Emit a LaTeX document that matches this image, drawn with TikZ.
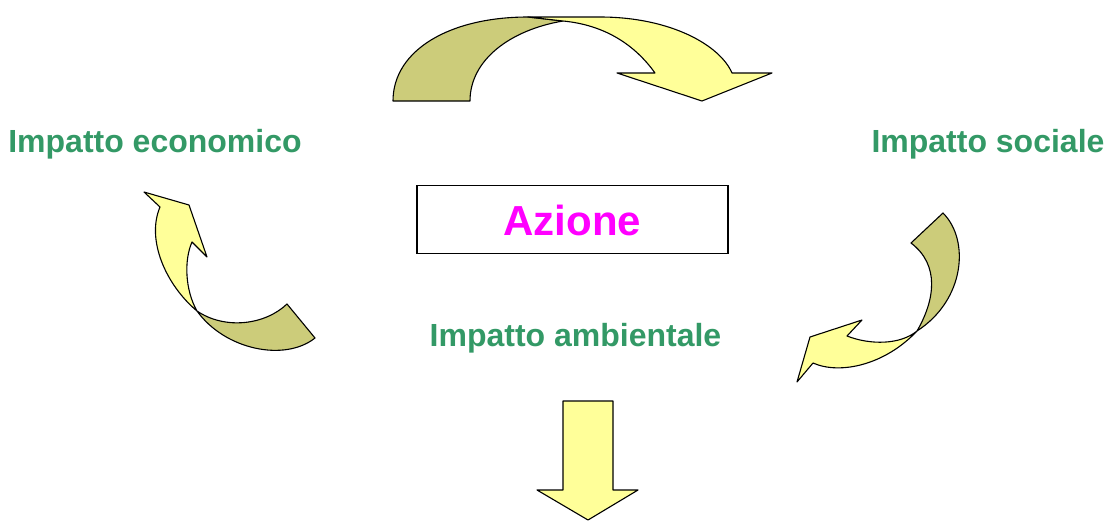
\documentclass[tikz,border=0pt]{standalone}
\usepackage{fontspec}
\setmainfont{Liberation Sans}
\definecolor{arrowfront}{RGB}{255,255,153}
\definecolor{arrowback}{RGB}{204,204,122}
\definecolor{labelgreen}{RGB}{51,153,102}
\definecolor{actionmag}{RGB}{255,0,255}
\tikzset{
  front/.style={draw=black, fill=arrowfront, line width=1.1pt, line join=round},
  back/.style={draw=black, fill=arrowback, line width=1.1pt, line join=round},
  impact/.style={text=labelgreen, font=\bfseries\fontsize{32}{36}\selectfont, inner sep=0pt, anchor=base},
  actionbox/.style={draw=black, line width=1.1pt, fill=white, minimum width=311pt, minimum height=68pt, inner sep=0pt},
}
\begin{document}
\begin{tikzpicture}[x=1pt, y=-1pt]
\useasboundingbox (0,0) rectangle (1106,520);
% top curved arrow
\draw[back] (393,101) .. controls (393,50) and (450,17) .. (528,17) -- (563,21)
  .. controls (510,30) and (470,60) .. (470,101) -- cycle;
\draw[front] (528,17) -- (600,17) .. controls (670,17) and (720,45) .. (732,73)
  -- (772,73) -- (702,101) -- (617,73) -- (655,73)
  .. controls (635,45) and (605,25) .. (563,21) -- cycle;
% left curved arrow
\draw[back] (197,311) .. controls (225,350) and (285,362) .. (315,338) -- (287,304)
  .. controls (265,325) and (225,330) .. (197,311) -- cycle;
\draw[front] (160,207) -- (144,192) -- (189,205) -- (207,257) -- (192,242)
  .. controls (184,260) and (185,290) .. (197,311)
  .. controls (166,285) and (146,240) .. (160,207) -- cycle;
% right curved arrow
\draw[back] (943,213) .. controls (970,240) and (965,300) .. (917,331)
  .. controls (935,300) and (940,265) .. (911,243) -- cycle;
\draw[front] (917,331) .. controls (885,365) and (840,375) .. (813,363)
  -- (797,382) -- (810,337) -- (862,320) -- (847,336)
  .. controls (870,345) and (900,345) .. (917,331) -- cycle;
% down arrow
\draw[front] (563,401) -- (613,401) -- (613,490) -- (638,490) -- (588,520)
  -- (537,490) -- (563,490) -- cycle;
% box and labels
\node[actionbox] (azionebox) at (572.5,219.5) {};
\node[impact, text=actionmag, font=\bfseries\fontsize{42}{48}\selectfont] (azione) at (572.5,235) {Azione};
\node[impact] (economico) at (155,152) {Impatto economico};
\node[impact] (sociale) at (988,152) {Impatto sociale};
\node[impact] (ambientale) at (575.5,346) {Impatto ambientale};
\end{tikzpicture}
\end{document}
